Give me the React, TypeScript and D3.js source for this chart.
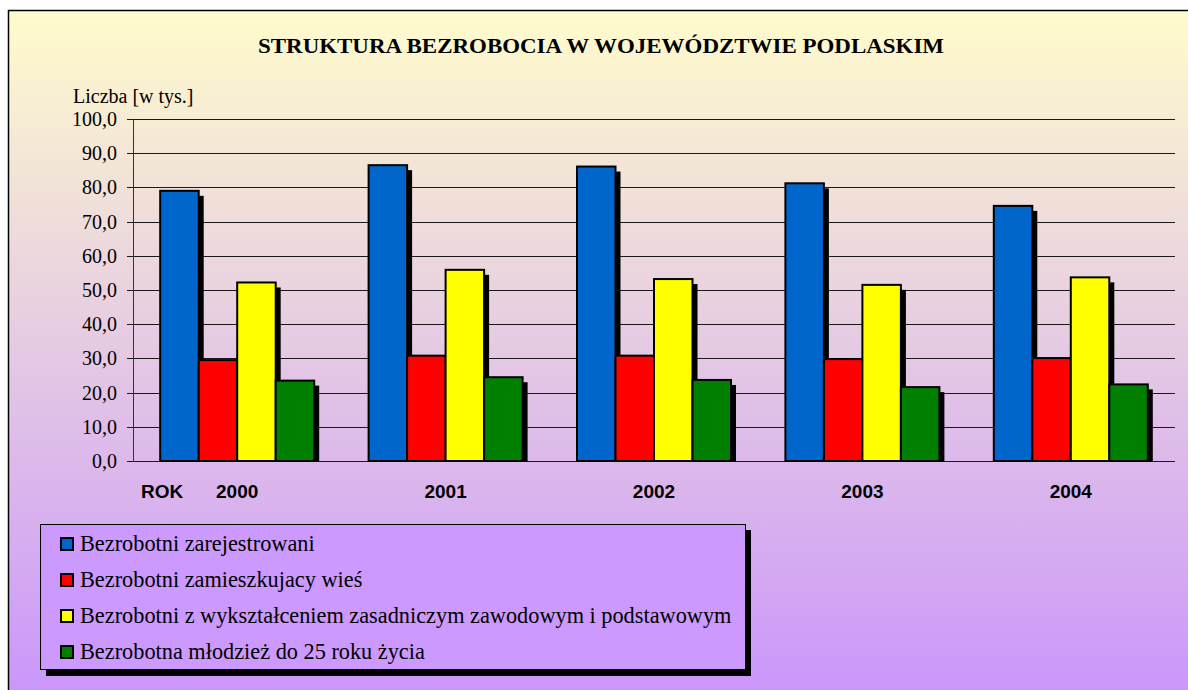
import React from "react";
import * as d3 from "d3";

const years = ["2000", "2001", "2002", "2003", "2004"];
const seriesNames = [
  "Bezrobotni zarejestrowani",
  "Bezrobotni zamieszkujacy wieś",
  "Bezrobotni z wykształceniem zasadniczym zawodowym i podstawowym",
  "Bezrobotna młodzież do 25 roku życia",
];
const seriesColors = ["#0066CC", "#FF0000", "#FFFF00", "#008000"];
const zarejestrowani = [79.0, 86.5, 86.1, 81.2, 74.6];
const wies = [29.5, 30.8, 30.8, 29.8, 30.1];
const wyksztalcenie = [52.2, 55.9, 53.2, 51.5, 53.7];
const mlodziez = [23.5, 24.5, 23.7, 21.6, 22.4];
const seriesValues = [zarejestrowani, wies, wyksztalcenie, mlodziez];
const yTicks = [0, 10, 20, 30, 40, 50, 60, 70, 80, 90, 100];

const title = "STRUKTURA BEZROBOCIA W WOJEWÓDZTWIE PODLASKIM";

export default function App() {
  const W = 1188;
  const H = 690;
  const left = 133;
  const right = 1175;
  const top = 119;
  const bottom = 461;

  const x = d3.scaleBand().domain(years).range([left, right]).padding(0);
  const y = d3.scaleLinear().domain([0, 100]).range([bottom, top]);
  const inner = d3
    .scaleBand()
    .domain(seriesNames)
    .range([0, 154]);
  const fmt = (v: number) => v.toFixed(1).replace(".", ",");
  const shadow = 5;

  return (
    <svg
      width={W}
      height={H}
      style={{ position: "absolute", left: 0, top: 0, display: "block" }}
    >
      <defs>
        <linearGradient id="bg" x1="0" y1="0" x2="0" y2="1">
          <stop offset="0%" stopColor="#FFFCCC" />
          <stop offset="100%" stopColor="#C994FC" />
        </linearGradient>
      </defs>
      <rect x={0} y={0} width={W} height={H} fill="#fff" />
      <rect x={8.5} y={10.5} width={W + 10} height={H + 10} fill="url(#bg)" stroke="#000" strokeWidth={1.5} />

      <text
        x={601}
        y={53}
        textAnchor="middle"
        fontFamily="'Liberation Serif', 'Times New Roman', serif"
        fontWeight="bold"
        fontSize={22}
        textLength={686}
        lengthAdjust="spacingAndGlyphs"
      >
        {title}
      </text>

      <text
        x={73}
        y={103}
        fontFamily="'Liberation Serif', 'Times New Roman', serif"
        fontSize={20}
      >
        Liczba [w tys.]
      </text>

      {yTicks.map((t) => (
        <g key={t}>
          <line
            x1={left - 6}
            x2={right}
            y1={Math.round(y(t)) + 0.5}
            y2={Math.round(y(t)) + 0.5}
            stroke="#1a1a1a"
            strokeWidth={1}
          />
          <text
            x={117}
            y={y(t) + 7}
            textAnchor="end"
            fontFamily="'Liberation Serif', 'Times New Roman', serif"
            fontSize={20}
          >
            {fmt(t)}
          </text>
        </g>
      ))}
      <line x1={left + 0.5} x2={left + 0.5} y1={top} y2={bottom + 1} stroke="#333" strokeWidth={1} />

      {years.map((yr, i) => {
        const gx = (x(yr) as number) + (x.bandwidth() - 154) / 2;
        return (
          <g key={yr}>
            {seriesNames.map((s, k) => {
              const v = seriesValues[k][i];
              const bx = gx + (inner(s) as number);
              const bw = inner.bandwidth();
              const by = y(v);
              return (
                <g key={s}>
                  <rect
                    x={bx + shadow}
                    y={by + shadow}
                    width={bw}
                    height={bottom + 1 - (by + shadow)}
                    fill="#000"
                  />
                  <rect
                    x={bx}
                    y={by}
                    width={bw}
                    height={bottom - by}
                    fill={seriesColors[k]}
                    stroke="#000"
                    strokeWidth={2}
                  />
                </g>
              );
            })}
            <text
              x={(x(yr) as number) + x.bandwidth() / 2}
              y={498}
              textAnchor="middle"
              fontFamily="'Liberation Sans', Arial, sans-serif"
              fontWeight="bold"
              fontSize={19}
            >
              {yr}
            </text>
          </g>
        );
      })}
      <text
        x={141}
        y={498}
        fontFamily="'Liberation Sans', Arial, sans-serif"
        fontWeight="bold"
        fontSize={19}
      >
        ROK
      </text>

      <rect x={46} y={530} width={705} height={146} fill="#000" />
      <rect x={40.5} y={524.5} width={705} height={145} fill="#CC99FF" stroke="#000" strokeWidth={1} />
      {seriesNames.map((s, k) => {
        const cy = 544 + k * 36;
        return (
          <g key={s}>
            <rect x={61} y={cy - 6} width={12} height={12} fill={seriesColors[k]} stroke="#000" strokeWidth={2} />
            <text
              x={80}
              y={cy + 6.5}
              fontFamily="'Liberation Serif', 'Times New Roman', serif"
              fontSize={22.3}
            >
              {s}
            </text>
          </g>
        );
      })}
    </svg>
  );
}
